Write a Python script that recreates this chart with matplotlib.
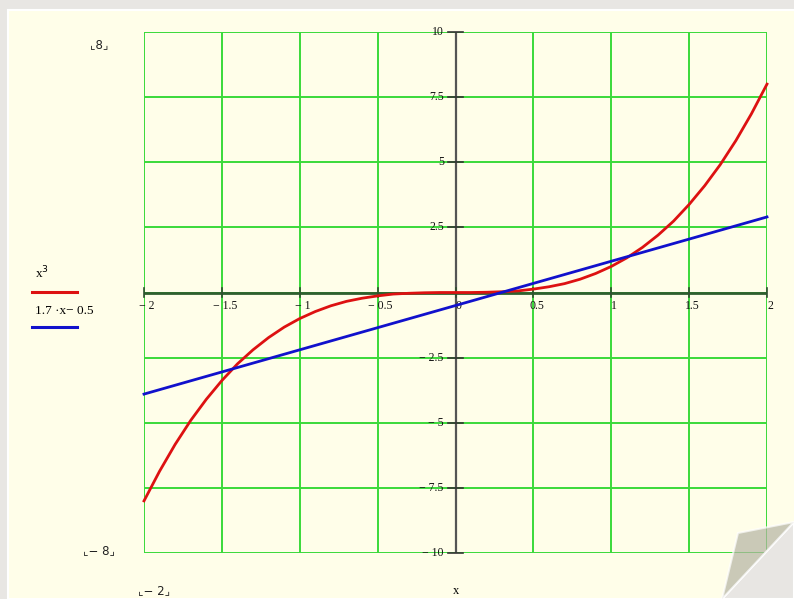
import numpy as np
import matplotlib
matplotlib.use("Agg")
import matplotlib.pyplot as plt
from matplotlib.patches import Polygon, Rectangle

# Datos
x_cubo = [-2.0, -1.9, -1.8, -1.7, -1.6, -1.5, -1.4, -1.3, -1.2, -1.1, -1.0,
          -0.9, -0.8, -0.7, -0.6, -0.5, -0.4, -0.3, -0.2, -0.1, 0.0,
          0.1, 0.2, 0.3, 0.4, 0.5, 0.6, 0.7, 0.8, 0.9, 1.0,
          1.1, 1.2, 1.3, 1.4, 1.5, 1.6, 1.7, 1.8, 1.9, 2.0]
y_cubo = [-8.0, -6.86, -5.83, -4.91, -4.10, -3.38, -2.74, -2.20, -1.73, -1.33, -1.0,
          -0.73, -0.51, -0.34, -0.22, -0.13, -0.06, -0.03, -0.01, 0.0, 0.0,
          0.0, 0.01, 0.03, 0.06, 0.13, 0.22, 0.34, 0.51, 0.73, 1.0,
          1.33, 1.73, 2.20, 2.74, 3.38, 4.10, 4.91, 5.83, 6.86, 8.0]
x_recta = [-2.0, 2.0]
y_recta = [-3.9, 2.9]

xticks = [-2, -1.5, -1, -0.5, 0, 0.5, 1, 1.5, 2]
xtick_labels = ["\u2212 2", "\u2212 1.5", "\u2212 1", "\u2212 0.5", "0", "0.5", "1", "1.5", "2"]
yticks = [10, 7.5, 5, 2.5, -2.5, -5, -7.5, -10]
ytick_labels = ["10", "7.5", "5", "2.5", "\u2212 2.5", "\u2212 5", "\u2212 7.5", "\u2212 10"]

W, H = 794, 599
fig = plt.figure(figsize=(W / 100, H / 100), dpi=100)
fig.patch.set_facecolor("#e8e6e3")
# hoja crema
fig.patches.append(Rectangle((8 / W, 0), 1, 1 - 10 / H, transform=fig.transFigure,
                             facecolor="#fffee9", edgecolor="white", lw=1.5, zorder=-10))

ax = fig.add_axes([144 / W, 46 / H, 623 / W, 521 / H])
ax.set_zorder(1)
ax.set_facecolor("none")
ax.set_xlim(-2, 2)
ax.set_ylim(-10, 10)
for s in ax.spines.values():
    s.set_visible(False)
ax.set_xticks([])
ax.set_yticks([])

verde = "#3ada3a"
for xv in np.arange(-2, 2.01, 0.5):
    ax.axvline(xv, color=verde, lw=1.4, zorder=1)
for yv in np.arange(-10, 10.01, 2.5):
    ax.axhline(yv, color=verde, lw=1.4, zorder=1)

# ejes
ax.axhline(0, color="#2f5f2f", lw=2.0, zorder=2)
ax.axvline(0, color="#555555", lw=1.6, zorder=2)
for xv in xticks:
    ax.plot([xv, xv], [-0.18, 0.18], color="#2f4f2f", lw=1.2, zorder=2, clip_on=False)
for yv in yticks:
    ax.plot([-0.045, 0.045], [yv, yv], color="#333333", lw=1.2, zorder=2, clip_on=False)

fuente = "Liberation Serif"
for xv, lab in zip(xticks, xtick_labels):
    ax.text(xv + 0.02, -0.3, lab, ha="center", va="top", fontsize=8.5,
            family=fuente, color="#111111", zorder=3)
for yv, lab in zip(yticks, ytick_labels):
    ax.text(-0.075, yv, lab, ha="right", va="center", fontsize=8.5,
            family=fuente, color="#111111", zorder=3, clip_on=False)

ax.plot(x_cubo, y_cubo, color="#dd1111", lw=2.0, zorder=4, clip_on=False)
ax.plot(x_recta, y_recta, color="#1111cc", lw=2.0, zorder=5, clip_on=False)

# leyenda y marcas de Mathcad
fig.text(35 / W, 1 - 273 / H, "x$^3$", fontsize=9.5, family=fuente, va="center")
fig.add_artist(plt.Line2D([32 / W, 77 / W], [1 - 292 / H, 1 - 292 / H], color="#dd1111", lw=2.2))
fig.text(35 / W, 1 - 311 / H, "1.7 \u00b7x\u2212 0.5", fontsize=9.5, family=fuente, va="center")
fig.add_artist(plt.Line2D([32 / W, 77 / W], [1 - 327 / H, 1 - 327 / H], color="#1111cc", lw=2.2))

for tx, ty, lab in [(99, 45, "8"), (99, 551, "\u2212 8"), (154, 591, "\u2212 2")]:
    fig.text(tx / W, 1 - ty / H, "\u231e" + lab + "\u231f", fontsize=8.5, family=["DejaVu Sans"],
             ha="center", va="center", color="#222222")
fig.text(456 / W, 1 - 591 / H, "x", fontsize=9, family=fuente, ha="center", va="center")

# esquina doblada
fig.patches.append(Polygon([(794 / W, 1 - 522 / H), (794 / W, 0), (722 / W, 0)],
                           closed=True, transform=fig.transFigure,
                           facecolor="#e8e6e3", edgecolor="white", lw=1.5, zorder=10))
fig.patches.append(Polygon([(738 / W, 1 - 533 / H), (794 / W, 1 - 522 / H), (722 / W, 0)],
                           closed=True, transform=fig.transFigure,
                           facecolor="#b4b3a2", edgecolor="white", lw=1.5, zorder=11, alpha=0.7))

fig.savefig("out.png", dpi=100, facecolor=fig.get_facecolor())
